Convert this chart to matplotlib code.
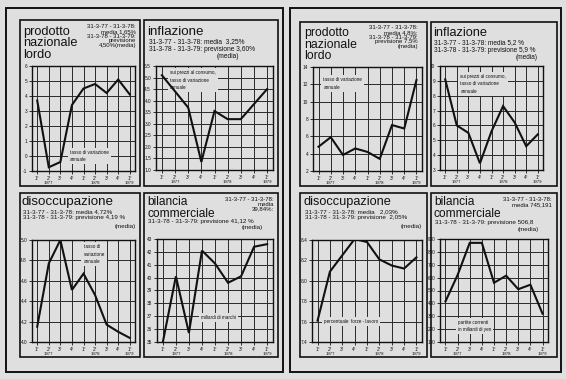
import matplotlib
matplotlib.use("Agg")
import matplotlib.pyplot as plt
from matplotlib.patches import Rectangle

plt.rcParams["font.family"] = ["Liberation Sans", "DejaVu Sans"]

W, H = 566, 379
BG = "#dfdfdf"
INK = "#111111"

QUARTERS = ["1°", "2°", "3°", "4°", "1°", "2°", "3°", "4°", "1°"]
YEARS = ["1977", "1978", "1979"]
YEAR_POS = [2, 6, 9]

# left page
pnl_a = [3.7, -0.75, -0.4, 3.4, 4.5, 4.8, 4.2, 5.1, 4.1]
infl_a = [5.1, 4.4, 3.7, 1.35, 3.55, 3.2, 3.2, 3.85, 4.5]
disocc_a = [4.15, 4.77, 5.0, 4.51, 4.67, 4.46, 4.17, 4.10, 4.04]
bil_a = [35.0, 40.1, 35.7, 42.1, 41.1, 39.6, 40.1, 42.4, 42.6]

# right page
pnl_b = [4.8, 5.9, 3.85, 4.6, 4.2, 3.4, 7.3, 6.9, 12.5]
infl_b = [9.1, 6.0, 5.5, 3.45, 5.6, 7.3, 6.2, 4.6, 5.4]
disocc_b = [7.61, 8.09, 8.25, 8.41, 8.38, 8.21, 8.15, 8.12, 8.23]
bil_b = [415, 620, 870, 870, 560, 615, 510, 545, 320]

yt_pnl_a = [-1, 0, 1, 2, 3, 4, 5, 6]
yt_infl_a = [1.0, 1.5, 2.0, 2.5, 3.0, 3.5, 4.0, 4.5, 5.0, 5.5]
yt_disocc_a = [4.0, 4.2, 4.4, 4.6, 4.8, 5.0]
yt_bil_a = [35, 36, 37, 38, 39, 40, 41, 42, 43]
yt_pnl_b = [2, 4, 6, 8, 10, 12, 14]
yt_infl_b = [3, 4, 5, 6, 7, 8, 9, 10]
yt_disocc_b = [7.4, 7.6, 7.8, 8.0, 8.2, 8.4]
yt_bil_b = [100, 200, 300, 400, 500, 600, 700, 800, 900]

fig = plt.figure(figsize=(W / 100, H / 100), dpi=100)
fig.patch.set_facecolor(BG)

# pixel-space canvas for frames and headers
cv = fig.add_axes([0, 0, 1, 1])
cv.set_xlim(0, W)
cv.set_ylim(H, 0)
cv.axis("off")


def frame(x0, y0, x1, y1, lw=1.3):
    cv.add_patch(Rectangle((x0, y0), x1 - x0, y1 - y0, fill=False,
                           edgecolor=INK, linewidth=lw))


def chart(x0, y0, x1, y1, values, yticks, fmt, note, note_xy,
          note_ha="left"):
    ax = fig.add_axes([x0 / W, 1 - y1 / H, (x1 - x0) / W, (y1 - y0) / H])
    ax.set_facecolor(BG)
    xs = list(range(1, len(values) + 1))
    ax.plot(xs, values, color=INK, linewidth=1.5, zorder=5,
            solid_joinstyle="miter")
    ax.set_xlim(0.55, 9.45)
    ax.set_ylim(yticks[0], yticks[-1])
    ax.set_yticks(yticks)
    ax.set_yticklabels([fmt.format(v) for v in yticks])
    ax.set_xticks(xs)
    ax.set_xticklabels(QUARTERS)
    ax.grid(True, color="#2a2a2a", linewidth=0.7)
    ax.tick_params(length=2, width=0.6, pad=1.5, labelsize=3.4,
                   colors=INK)
    for s in ax.spines.values():
        s.set_linewidth(1.0)
        s.set_color(INK)
    for yr, p in zip(YEARS, YEAR_POS):
        ax.text(p, -0.1, yr, transform=ax.get_xaxis_transform(),
                ha="center", va="top", fontsize=3.1, color=INK)
    ax.text(note_xy[0], note_xy[1], note, fontsize=3.3, color=INK,
            ha=note_ha, va="center", linespacing=1.6, zorder=4,
            bbox=dict(facecolor=BG, edgecolor="none", pad=1.5))
    return ax


# outer pages
frame(6, 8, 283, 372, lw=1.4)
frame(290, 8, 561, 372, lw=1.4)

# cards
for (x0, y0, x1, y1) in [(20, 20, 140, 186), (144, 20, 278, 186),
                         (20, 193, 140, 357), (144, 193, 278, 357),
                         (300, 22, 427, 186), (431, 22, 557, 186),
                         (300, 193, 427, 357), (431, 193, 557, 357)]:
    frame(x0, y0, x1, y1, lw=1.2)

SMALL = 4.5

# ---- left page headers
cv.text(23, 26, "prodotto\nnazionale\nlordo", fontsize=9.2, va="top",
        ha="left", linespacing=0.92, color=INK)
cv.text(136, 24, "31-3-77 - 31-3-78:\nmedia 1,65%\n31-3-78 - 31-3-79:\nprevisione\n4,50%(media)",
        fontsize=4.3, va="top", ha="right", linespacing=0.95, color=INK)

cv.text(147, 26, "inflazione", fontsize=9.6, va="top", color=INK)
cv.text(149, 38, "31-3-77 - 31-3-78: media  3,25%\n31-3-78 - 31-3-79: previsione 3,60%",
        fontsize=4.8, va="top", linespacing=1.2, color=INK)
cv.text(239, 53, "(media)", fontsize=4.8, va="top", ha="right", color=INK)

cv.text(22, 196, "disoccupazione", fontsize=9.6, va="top", color=INK)
cv.text(23, 209, "31-3-77 - 31-3-78: media 4,72%\n31-3-78 - 31-3-79: previsione 4,19 %",
        fontsize=SMALL, va="top", linespacing=1.25, color=INK)
cv.text(136, 224, "(media)", fontsize=SMALL, va="top", ha="right", color=INK)

cv.text(147, 196, "bilancia\ncommerciale", fontsize=8.6, va="top",
        linespacing=0.95, color=INK)
cv.text(274, 197, "31-3-77 - 31-3-78:\nmedia\n39,84%:", fontsize=4.3,
        va="top", ha="right", linespacing=0.95, color=INK)
cv.text(148, 219, "31-3-78 - 31-3-79: previsione 41,12 %", fontsize=SMALL,
        va="top", color=INK)
cv.text(263, 225, "(media)", fontsize=SMALL, va="top", ha="right", color=INK)

# ---- right page headers
cv.text(304, 27, "prodotto\nnazionale\nlordo", fontsize=8.8, va="top",
        linespacing=0.95, color=INK)
cv.text(418, 25, "31-3-77 - 31-3-78:\nmedia 4,8%;\n31-3-78 - 31-3-79:\nprevisione 7,5%\n(media)",
        fontsize=4.3, va="top", ha="right", linespacing=0.95, color=INK)

cv.text(433, 27, "inflazione", fontsize=9.2, va="top", color=INK)
cv.text(434, 39, "31-3-77 - 31-3-78: media 5,2 %\n31-3-78 - 31-3-79: previsione 5,9 %",
        fontsize=4.7, va="top", linespacing=1.2, color=INK)
cv.text(538, 54, "(media)", fontsize=4.7, va="top", ha="right", color=INK)

cv.text(304, 196, "disoccupazione", fontsize=9.2, va="top", color=INK)
cv.text(305, 209, "31-3-77 - 31-3-78: media   2,03%\n31-3-78 - 31-3-79: previsione  2,05%",
        fontsize=SMALL, va="top", linespacing=1.25, color=INK)
cv.text(422, 224, "(media)", fontsize=SMALL, va="top", ha="right", color=INK)

cv.text(434, 196, "bilancia\ncommerciale", fontsize=8.6, va="top",
        linespacing=0.95, color=INK)
cv.text(552, 197, "31-3-77 - 31-3-78:\nmedia 745,191", fontsize=4.3,
        va="top", ha="right", linespacing=0.95, color=INK)
cv.text(435, 220, "31-3-78 - 31-3-79: previsione 506,8", fontsize=SMALL,
        va="top", color=INK)
cv.text(539, 227, "(media)", fontsize=SMALL, va="top", ha="right", color=INK)

# ---- charts, left page
chart(32, 66, 135, 171, pnl_a, yt_pnl_a, "{:d}",
      "tasso di variazione\nannuale", (3.8, 0.0))
chart(156, 66, 273, 170, infl_a, yt_infl_a, "{:.1f}",
      "sui prezzi al consumo,\ntasso di variazione\nannuale", (1.6, 4.88))
chart(32, 240, 135, 342, disocc_a, yt_disocc_a, "{:.1f}",
      "tasso di\nvariazione\nannuale", (5.0, 4.86))
chart(157, 239, 273, 342, bil_a, yt_bil_a, "{:d}",
      "miliardi di marchi", (3.9, 36.9))

# ---- charts, right page
chart(313, 67, 422, 171, pnl_b, yt_pnl_b, "{:d}",
      "tasso di variazione\nannuale", (1.4, 12.1))
chart(440, 66, 543, 170, infl_b, yt_infl_b, "{:d}",
      "sui prezzi al consumo,\ntasso di variazione\nannuale", (2.3, 8.8))
chart(312, 240, 422, 342, disocc_b, yt_disocc_b, "{:.1f}",
      "percentuale  forze - lavoro", (1.5, 7.6))
chart(440, 239, 548, 342, bil_b, yt_bil_b, "{:d}",
      "partite correnti\nin miliardi di yen", (2.0, 225))

fig.savefig("out.png", dpi=100, facecolor=fig.get_facecolor())
